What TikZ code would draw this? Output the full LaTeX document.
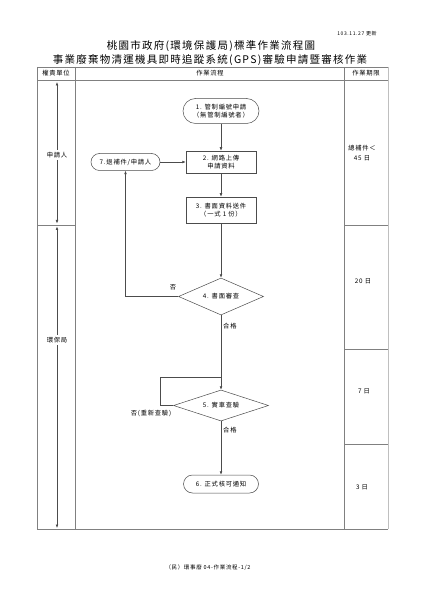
\documentclass[tikz,border=0pt]{standalone}
\usepackage{fontspec}
\setmainfont{Noto Sans CJK TC}[LetterSpace=12]
\usetikzlibrary{shapes.geometric,arrows.meta}
\begin{document}
\begin{tikzpicture}[x=1pt,y=-1pt,
  every node/.style={font=\fontsize{6.3}{8}\selectfont, inner sep=0pt, align=center},
  grid/.style={draw=black!50, line width=0.5pt},
  flow/.style={draw=black!70, line width=0.6pt, -{Latex[length=3.5pt,width=2.8pt]}},
  plain/.style={draw=black!70, line width=0.6pt},
  stadium/.style={draw=black!70, line width=0.5pt, rectangle, rounded corners=#1},
  boxnode/.style={draw=black!70, line width=0.5pt, rectangle},
  dia/.style={draw=black!70, line width=0.5pt, diamond}
]
\useasboundingbox (0,0) rectangle (420,593);
\fill[white] (0,0) rectangle (420,593);

% titles
\node (date) at (357,34) {\fontsize{5}{6}\selectfont 103.11.27 更新};
\node (t1) at (211,46) {\fontsize{10.5}{12}\selectfont 桃園市政府(環境保護局)標準作業流程圖};
\node (t2) at (210,60) {\fontsize{10.5}{12}\selectfont 事業廢棄物清運機具即時追蹤系統(GPS)審驗申請暨審核作業};

% table
\draw[grid] (37,67) -- (388,67);
\draw[grid] (37,80) -- (388,80);
\draw[grid] (37,529) -- (388,529);
\draw[grid] (37,67) -- (37,529);
\draw[grid] (75,67) -- (75,529);
\draw[grid] (344,67) -- (344,529);
\draw[draw=black!25, line width=1.3pt] (388.5,67) -- (388.5,529);
\draw[grid] (37,225) -- (75,225);
\draw[grid] (344,225) -- (388,225);
\draw[grid] (344,349) -- (388,349);
\draw[grid] (344,444) -- (388,444);

\node (h1) at (56,73.5) {權責單位};
\node (h2) at (210,73.5) {作業流程};
\node (h3) at (366,73.5) {作業期限};

% left column
\node (u1) at (57,155) {申請人};
\node (u2) at (57,340) {環保局};
\coordinate (a1) at (57,82);
\coordinate (a2) at (57,223.5);
\coordinate (a3) at (57,226.5);
\coordinate (a4) at (57,528);
\draw[flow] (u1.north) ++(0,-2) -- (a1);
\draw[flow] (u1.south) ++(0,2) -- (a2);
\draw[flow] (u2.north) ++(0,-2) -- (a3);
\draw[flow] (u2.south) ++(0,2) -- (a4);

% right column
\node (d1) at (362,153.5) {總補件＜\\[2pt]45 日};
\node (d2) at (363,281) {20 日};
\node (d3) at (364,391) {7 日};
\node (d4) at (362,487) {3 日};

% flow nodes
\node[stadium=12.5pt, minimum width=76pt, minimum height=25pt] (n1) at (221,111) {1. 管制編號申請\\（無管制編號者）};
\node[boxnode, minimum width=70pt, minimum height=22pt] (n2) at (221,162) {2. 網路上傳\\申請資料};
\node[boxnode, minimum width=70pt, minimum height=26pt] (n3) at (221,210) {3. 書面資料送件\\（一式 1 份）};
\node[dia, aspect=2.3, minimum width=85pt, minimum height=37pt] (n4) at (221,296.5) {4. 書面審查};
\node[dia, aspect=3, minimum width=95pt, minimum height=31pt] (n5) at (221,405.5) {5. 實車查驗};
\node[stadium=9pt, minimum width=75pt, minimum height=18pt] (n6) at (221,484) {6. 正式核可通知};
\node[stadium=8.5pt, minimum width=69pt, minimum height=17pt] (n7) at (125.5,162) {7.退補件/申請人};

\draw[flow] (n1) -- (n2);
\draw[flow] (n2) -- (n3);
\draw[flow] (n3) -- (n4);
\draw[flow] (n4) -- (n5);
\draw[flow] (n5) -- (n6);
\draw[flow] (n7) -- (n2);
\draw[flow] (n4.west) -| (n7.south);
\coordinate (lp) at (160,405.5);
\coordinate (jn) at (221,377);
\draw[plain] (n5.west) -- (lp) |- (jn);

% labels
\node (l1) at (173,287) {否};
\node[anchor=west] (l2) at (223,326) {合格};
\node (l3) at (151,413) {否(重新查驗)};
\node[anchor=west] (l4) at (223,430) {合格};

% footer
\node (ft) at (208,568) {\fontsize{5.5}{6}\selectfont （民）環事廢 04-作業流程-1/2};
\end{tikzpicture}
\end{document}
